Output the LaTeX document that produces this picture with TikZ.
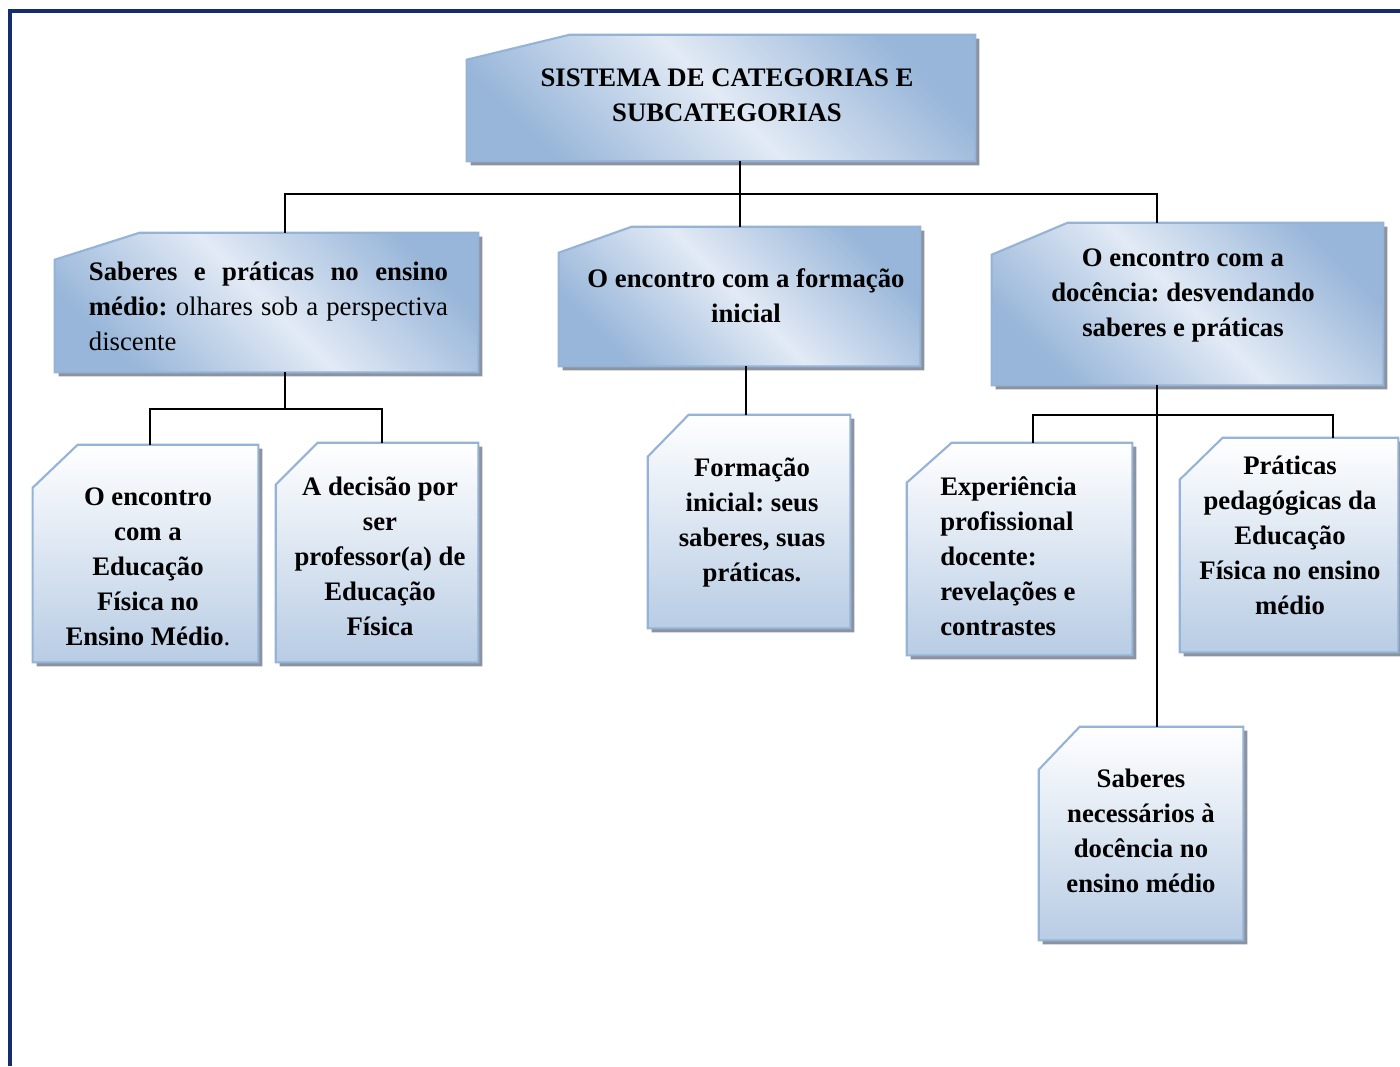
\documentclass[tikz,border=0pt]{standalone}
\usepackage{fontspec}
\setmainfont{Liberation Serif}
\usepackage{xcolor}
\usepackage{tikz}

\definecolor{navy}{RGB}{20,45,110}
\definecolor{edgeblue}{RGB}{149,179,215}
\definecolor{deepblue}{RGB}{152,182,217}
\definecolor{paleblue}{RGB}{226,234,245}
\definecolor{leafblue}{RGB}{184,204,228}
\definecolor{shadowgray}{RGB}{140,146,158}

\newcommand{\boxfont}{\fontsize{19}{24.9}\selectfont\frenchspacing}
% chamfered box drawn round an empty node: node, cut x, cut y, fill style
\newcommand{\cutbox}[4]{%
  \fill[shadowgray] ([shift={(4,4+#3)}]#1.north west) -- ([shift={(4+#2,4)}]#1.north west)
    -- ([shift={(4,4)}]#1.north east) -- ([shift={(4,4)}]#1.south east)
    -- ([shift={(4,4)}]#1.south west) -- cycle;
  \path[#4, draw=edgeblue, line width=1.5pt] ([shift={(0,#3)}]#1.north west)
    -- ([shift={(#2,0)}]#1.north west) -- (#1.north east) -- (#1.south east)
    -- (#1.south west) -- cycle;
}

\begin{document}
\begin{tikzpicture}[
        x=0.025cm, y=-0.025cm,
        box/.style={rectangle, inner sep=0pt},
        txt/.style={font=\boxfont\bfseries, align=center, inner sep=0pt},
        link/.style={line width=1.3pt},
        midfill/.style={top color=deepblue, bottom color=deepblue, middle color=paleblue, shading angle=-45},
        leaffill/.style={top color=white, bottom color=leafblue}
    ]
        \useasboundingbox (0,0) rectangle (1400,1066);

        % Frame
        \draw[navy, line width=2.2pt] (10,1066) -- (10,11) -- (1400,11);

        % Nodes
        \node[box, minimum width=12.7cm, minimum height=3.15cm] (sistema) at (721,98) {};
        \node[box, minimum width=10.575cm, minimum height=3.475cm] (saberes) at (266.5,302.5) {};
        \node[box, minimum width=9.025cm, minimum height=3.475cm] (formacao) at (739.5,296.5) {};
        \node[box, minimum width=9.775cm, minimum height=4.05cm] (docencia) at (1187.5,304) {};
        \node[box, minimum width=5.625cm, minimum height=5.425cm] (encontro) at (145.5,553.5) {};
        \node[box, minimum width=5.05cm, minimum height=5.475cm] (decisao) at (377,552.5) {};
        \node[box, minimum width=5.05cm, minimum height=5.325cm] (inicial) at (749,521.5) {};
        \node[box, minimum width=5.625cm, minimum height=5.3cm] (experiencia) at (1019.5,549) {};
        \node[box, minimum width=5.45cm, minimum height=5.35cm] (praticas) at (1289,545) {};
        \node[box, minimum width=5.1cm, minimum height=5.325cm] (necessarios) at (1141,833.5) {};

        % Boxes
        \cutbox{sistema}{103}{25}{midfill}
        \cutbox{saberes}{85}{27}{midfill}
        \cutbox{formacao}{73}{26}{midfill}
        \cutbox{docencia}{76}{32}{midfill}
        \cutbox{encontro}{45}{43}{leaffill}
        \cutbox{decisao}{42}{42}{leaffill}
        \cutbox{inicial}{41}{42}{leaffill}
        \cutbox{experiencia}{45}{40}{leaffill}
        \cutbox{praticas}{43}{42}{leaffill}
        \cutbox{necessarios}{41}{43}{leaffill}

        % Texts
        \node[txt] (sistematxt) at (727,95.5) {SISTEMA DE CATEGORIAS E\\SUBCATEGORIAS};
        \node[txt, font=\boxfont, align=justify, text width=8.975cm] (saberestxt) at (268.5,306)
            {\textbf{Saberes e práticas no ensino}\linebreak\textbf{médio:} olhares sob a perspectiva\linebreak discente};
        \node[txt] (formacaotxt) at (746,295.5) {O encontro com a formação\\inicial};
        \node[txt] (docenciatxt) at (1183,295.5) {O encontro com a\\docência: desvendando\\saberes e práticas};
        \node[txt] (encontrotxt) at (148,567) {O encontro\\com a\\Educação\\Física no\\Ensino Médio\textmd{.}};
        \node[txt] (decisaotxt) at (380,556) {A decisão por\\ser\\professor(a) de\\Educação\\Física};
        \node[txt] (inicialtxt) at (752,523) {Formação\\inicial: seus\\saberes, suas\\práticas.};
        \node[txt, align=left, anchor=west] (experienciatxt) at (940,556.5) {Experiência\\profissional\\docente:\\revelações e\\contrastes};
        \node[txt] (praticastxt) at (1290,535.5) {Práticas\\pedagógicas da\\Educação\\Física no ensino\\médio};
        \node[txt] (necessariostxt) at (1141,831) {Saberes\\necessários à\\docência no\\ensino médio};

        % Links
        \coordinate (bus) at (740,194);
        \coordinate (leftbus) at (285,409);
        \coordinate (rightbus) at (1157,415);
        \coordinate (encbus) at (150,409);
        \coordinate (decbus) at (382,409);
        \coordinate (expbus) at (1033,415);
        \coordinate (pratbus) at (1333,415);

        \draw[link] (bus |- sistema.south) -- (bus) -- (bus |- formacao.north);
        \draw[link] (leftbus |- saberes.north) |- (rightbus |- bus) -- (rightbus |- docencia.north);
        \draw[link] (leftbus |- saberes.south) -- (leftbus);
        \draw[link] (encbus |- encontro.north) |- (decbus) -- (decbus |- decisao.north);
        \draw[link] (inicial.north -| 746,0) -- (formacao.south -| 746,0);
        \draw[link] (rightbus |- docencia.south) -- (rightbus |- necessarios.north);
        \draw[link] (expbus |- experiencia.north) |- (pratbus) -- (pratbus |- praticas.north);
\end{tikzpicture}
\end{document}
